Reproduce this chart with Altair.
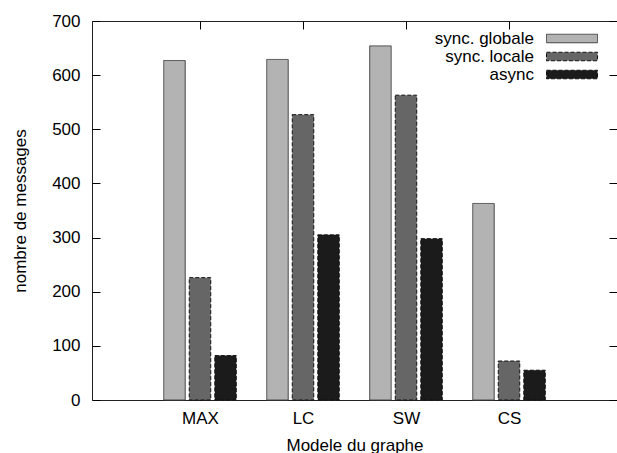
import altair as alt
import pandas as pd

categories = ["MAX", "LC", "SW", "CS"]
series_names = ["sync. globale", "sync. locale", "async"]
sync_globale = [627, 629, 654, 363]
sync_locale = [226, 527, 563, 72]
async_vals = [82, 305, 298, 55]
y_ticks = [0, 100, 200, 300, 400, 500, 600, 700]

# style
fills = ["#b3b3b3", "#666666", "#1b1b1b"]
strokes = ["#444444", "#111111", "#111111"]
dashes = [[1, 0], [4, 2], [4, 2]]
offsets = [-0.248, 0.0, 0.248]
FONT = "Liberation Sans"
FS = 17

rows = []
for si, (name, vals) in enumerate(zip(series_names, [sync_globale, sync_locale, async_vals])):
    for ci, (cat, v) in enumerate(zip(categories, vals)):
        rows.append({"categorie": cat, "serie": name, "valeur": v,
                     "pos": ci + 1 + offsets[si]})
df = pd.DataFrame(rows)

xs = alt.Scale(domain=[0, len(categories) + 1], nice=False, zero=False)
ys = alt.Scale(domain=[0, 700], nice=False)
cat_positions = list(range(1, len(categories) + 1))
label_expr = "[" + ",".join("'" + c + "'" for c in categories) + "][datum.value - 1]"

bars = alt.Chart(df).mark_bar(width=21.5, strokeWidth=1).encode(
    x=alt.X("pos:Q", scale=xs,
            axis=alt.Axis(orient="bottom", values=cat_positions, labelExpr=label_expr,
                          ticks=False, domain=False, grid=False, labelFontSize=FS,
                          labelPadding=10, title="Modele du graphe", titleFontSize=FS,
                          titleFontWeight="normal", titlePadding=11, labelColor="black",
                          titleColor="black")),
    y=alt.Y("valeur:Q", scale=ys,
            axis=alt.Axis(orient="left", values=y_ticks, ticks=False, domain=False,
                          grid=False, labelFontSize=FS, labelPadding=12,
                          title="nombre de messages", titleFontSize=FS,
                          titleFontWeight="normal", titlePadding=22,
                          labelColor="black", titleColor="black")),
    fill=alt.Fill("serie:N", scale=alt.Scale(domain=series_names, range=fills),
                  legend=alt.Legend(orient="none", legendX=471, legendY=8.5, title=None,
                                    symbolType="M-3,-0.5L3,-0.5L3,0.5L-3,0.5Z",
                                    symbolSize=289, labelAlign="right",
                                    labelOffset={"expr": "-47"},
                                    labelFontSize=FS, labelColor="black", padding=0,
                                    rowPadding=1, symbolStrokeWidth=1)),
    stroke=alt.Stroke("serie:N", scale=alt.Scale(domain=series_names, range=strokes)),
    strokeDash=alt.StrokeDash("serie:N", scale=alt.Scale(domain=series_names, range=dashes)),
)

tick_kw = dict(ticks=True, tickSize=8, offset=-8, labels=False, domain=False,
               grid=False, title=None, tickColor="black")

ticks1 = alt.Chart(df).mark_point(opacity=0, size=1).encode(
    x=alt.X("pos:Q", scale=xs, axis=alt.Axis(orient="top", values=cat_positions, **tick_kw)),
    y=alt.Y("valeur:Q", scale=ys, axis=alt.Axis(orient="left", values=y_ticks, **tick_kw)),
)
ticks2 = alt.Chart(df).mark_point(opacity=0, size=1).encode(
    x=alt.X("pos:Q", scale=xs, axis=alt.Axis(orient="bottom", values=cat_positions, **tick_kw)),
    y=alt.Y("valeur:Q", scale=ys, axis=alt.Axis(orient="right", values=y_ticks, **tick_kw)),
)

chart = alt.layer(ticks1, ticks2, bars).resolve_axis(
    x="independent", y="independent"
).properties(
    width=525, height=379,
    autosize=alt.AutoSizeParams(type="none"),
    padding={"left": 92, "top": 21, "right": 0, "bottom": 53},
).configure(font=FONT).configure_view(stroke="#222222", strokeWidth=1)

chart.save("out.html", embed_options={"renderer": "svg", "actions": False})
